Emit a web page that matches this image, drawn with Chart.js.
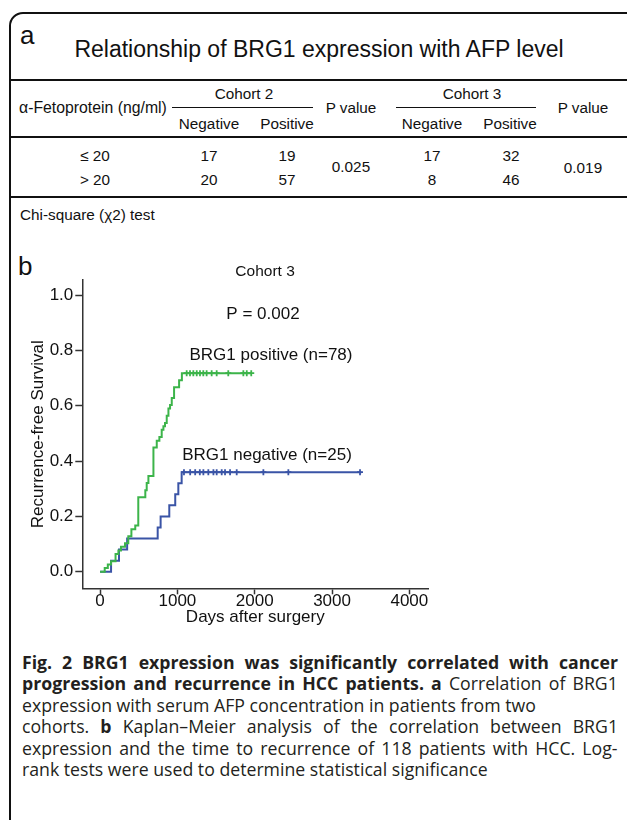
<!DOCTYPE html>
<html>
<head>
<meta charset="utf-8">
<script src="https://cdn.jsdelivr.net/npm/chart.js@4.4.0/dist/chart.umd.min.js"></script>
<style>
  html, body { margin: 0; padding: 0; background: #fff; }
  body {
    width: 627px; height: 820px; overflow: hidden; position: relative;
    font-family: "Liberation Sans", Arial, sans-serif; color: #111;
  }
  #frame {
    position: absolute; left: 9px; top: 12px; width: 700px; height: 900px;
    border: 2px solid #111; border-radius: 14px; box-sizing: border-box;
  }
  .t { position: absolute; white-space: nowrap; line-height: 1; transform: translate(-50%, -50%); }
  .l { position: absolute; white-space: nowrap; line-height: 1; transform: translateY(-50%); }
  .rule { position: absolute; background: #111; }
  #caption {
    position: absolute; left: 22px; top: 652px;
    font-family: "Open Sans", sans-serif; font-size: 17.5px; line-height: 21.4px; color: #231f20;
    transform-origin: 0 0;
  }
  #caption div { white-space: nowrap; width: max-content; }
  #km { position: absolute; left: 0; top: 250px; }
</style>
</head>
<body>
<div id="frame"></div>
<div id="panelA"></div>
<canvas id="km" width="450" height="390"></canvas>
<div id="caption">
  <div class="j"><b>Fig. 2 BRG1 expression was significantly correlated with cancer</b></div>
  <div class="j"><b>progression and recurrence in HCC patients. a</b> Correlation of BRG1</div>
  <div data-w="496">expression with serum AFP concentration in patients from two</div>
  <div class="j">cohorts. <b>b</b> Kaplan–Meier analysis of the correlation between BRG1</div>
  <div class="j">expression and the time to recurrence of 118 patients with HCC. Log-</div>
  <div data-w="482">rank tests were used to determine statistical significance</div>
</div>
<script>
// panel a table
const afpRows = ["≤ 20", "> 20"];
const cohort2Neg = [17, 20];
const cohort2Pos = [19, 57];
const cohort3Neg = [17, 8];
const cohort3Pos = [32, 46];
const pValues = ["0.025", "0.019"];

// panel b, Kaplan-Meier (days, cumulative recurrence)
const xTicks = [0, 1000, 2000, 3000, 4000];
const yTicks = [0, 0.2, 0.4, 0.6, 0.8, 1.0];
const posDays = [60, 100, 142, 200, 237, 270, 322, 365, 405, 455, 494, 585, 603, 625,
  690, 733, 767, 797, 819, 840, 862, 884, 905, 927, 957, 1022, 1058];
const posRisk = [0.013, 0.026, 0.038, 0.064, 0.077, 0.09, 0.103, 0.128, 0.154, 0.167, 0.269,
  0.295, 0.321, 0.346, 0.449, 0.474, 0.487, 0.513, 0.526, 0.538, 0.564, 0.59, 0.603,
  0.628, 0.667, 0.692, 0.718];
const posCensor = [1120, 1163, 1206, 1250, 1292, 1335, 1378, 1443, 1508, 1658, 1853, 1897, 1955];
const negDays = [142, 245, 350, 745, 783, 895, 972, 1012, 1055];
const negRisk = [0.04, 0.08, 0.12, 0.16, 0.2, 0.24, 0.28, 0.32, 0.36];
const negCensor = [1085, 1165, 1230, 1290, 1336, 1400, 1466, 1508, 1573, 1616, 1681, 1767,
  2112, 2435, 3362, 3380];

const noteText = ["Cohort 3", "P = 0.002", "BRG1 positive (n=78)", "BRG1 negative (n=25)"];
const noteX = [2134, 2107, 2210, 2159];
const noteY = [1.084, 0.932, 0.784, 0.422];
const noteSize = [15.5, 17, 17, 17];

const GREEN = "#3cb44a";
const BLUE = "#3a54a6";
const FONT = '"Liberation Sans", Arial, sans-serif';

// ---- table ----
const panel = document.getElementById("panelA");
const put = (text, cx, cy, size, cls) => {
  const s = document.createElement("span");
  s.className = cls || "t";
  s.textContent = text;
  s.style.left = cx + "px";
  s.style.top = cy + "px";
  s.style.fontSize = size + "px";
  panel.appendChild(s);
};
const rule = (x1, x2, y, h) => {
  const d = document.createElement("div");
  d.className = "rule";
  d.style.left = x1 + "px";
  d.style.width = x2 - x1 + "px";
  d.style.top = y - h / 2 + "px";
  d.style.height = h + "px";
  panel.appendChild(d);
};

put("a", 20, 35, 26, "l");
put("Relationship of BRG1 expression with AFP level", 319, 49, 23);
rule(10, 627, 80, 2);
put("α-Fetoprotein (ng/ml)", 19, 108, 15.8, "l");
put("Cohort 2", 244, 94, 15.3);
rule(172, 313, 107.5, 1.5);
put("P value", 351, 108, 15.3);
put("Cohort 3", 472, 94, 15.3);
rule(396, 536, 107.5, 1.5);
put("P value", 583, 108, 15.3);
[209, 287, 432, 510].forEach((x, i) => put(i % 2 ? "Positive" : "Negative", x, 123.5, 15.3));
rule(10, 627, 137, 1.5);
const rowY = [156, 180];
afpRows.forEach((r, i) => {
  put(r, 95, rowY[i], 15.3);
  put(cohort2Neg[i], 209, rowY[i], 15.3);
  put(cohort2Pos[i], 287, rowY[i], 15.3);
  put(cohort3Neg[i], 432, rowY[i], 15.3);
  put(cohort3Pos[i], 511, rowY[i], 15.3);
});
put(pValues[0], 351, 167, 15.3);
put(pValues[1], 583, 168, 15.3);
rule(10, 627, 197, 2);
put("Chi-square (χ2) test", 20, 215, 15.3, "l");
put("b", 18, 266, 26, "l");

// ---- caption: squeeze to the narrow journal face, then justify ----
const caption = document.getElementById("caption");
const capLines = [...caption.children];
const free = capLines.filter((d) => d.dataset.w);
let sx = 0;
free.forEach((d) => { sx += +d.dataset.w / d.offsetWidth; });
sx /= free.length;
caption.style.transform = "scaleX(" + sx + ")";
capLines.filter((d) => d.classList.contains("j")).forEach((d) => {
  const gaps = d.textContent.trim().split(/\s+/).length - 1;
  d.style.wordSpacing = (596 / sx - d.offsetWidth) / gaps + "px";
});

// ---- chart ----
const riskAt = (days, risk, d) => {
  let v = 0;
  days.forEach((t, i) => { if (t <= d) v = risk[i]; });
  return v;
};
const curve = (days, risk, end) => {
  const pts = [{ x: 0, y: 0 }];
  days.forEach((d, i) => pts.push({ x: d, y: risk[i] }));
  pts.push({ x: end, y: risk[risk.length - 1] });
  return pts;
};
const marks = (days, risk, cens) => cens.map((d) => ({ x: d, y: riskAt(days, risk, d) }));

const notes = {
  id: "notes",
  afterDraw(chart) {
    const { ctx, scales: { x, y } } = chart;
    ctx.save();
    ctx.fillStyle = "#111";
    ctx.textAlign = "center";
    ctx.textBaseline = "middle";
    noteText.forEach((t, i) => {
      ctx.font = noteSize[i] + "px " + FONT;
      ctx.fillText(t, x.getPixelForValue(noteX[i]), y.getPixelForValue(noteY[i]));
    });
    ctx.restore();
  },
};

Chart.defaults.font.family = FONT;
Chart.defaults.color = "#111";

const lineSet = (data, color) => ({
  data, showLine: true, stepped: "before", borderColor: color, borderWidth: 2,
  pointRadius: 0, fill: false,
});
const markSet = (data, color) => ({
  data, showLine: false, pointStyle: "cross", pointRadius: 3,
  borderColor: color, backgroundColor: color, borderWidth: 1.8,
});

const axisGrid = { drawOnChartArea: false, drawTicks: true, tickColor: "#333", tickWidth: 1.5 };
const axisBorder = { display: true, color: "#333", width: 1.5 };

const kmChart = new Chart(document.getElementById("km").getContext("2d"), {
  type: "scatter",
  data: {
    datasets: [
      lineSet(curve(posDays, posRisk, posCensor[posCensor.length - 1]), GREEN),
      markSet(marks(posDays, posRisk, posCensor), GREEN),
      lineSet(curve(negDays, negRisk, negCensor[negCensor.length - 1]), BLUE),
      markSet(marks(negDays, negRisk, negCensor.slice(0, -1)), BLUE),
    ],
  },
  options: {
    responsive: false,
    animation: false,
    devicePixelRatio: 1,
    layout: { padding: { left: 0, right: 21.7, top: 30, bottom: 0 } },
    plugins: { legend: { display: false }, tooltip: { enabled: false } },
    scales: {
      x: {
        type: "linear", min: -230, max: 4245,
        afterBuildTicks: (s) => { s.ticks = xTicks.map((v) => ({ value: v })); },
        afterFit: (s) => { s.height = 51.7; },
        grid: { ...axisGrid, tickLength: 6 },
        border: axisBorder,
        ticks: { font: { size: 17, lineHeight: 0.78 }, padding: 0, maxRotation: 0, callback: (v) => String(v) },
        title: { display: true, text: "Days after surgery", font: { size: 17 }, padding: { top: 0, bottom: 12 } },
      },
      y: {
        type: "linear", min: -0.06, max: 1.055,
        afterBuildTicks: (s) => { s.ticks = yTicks.map((v) => ({ value: v })); },
        afterFit: (s) => { s.width = 82.3; },
        grid: { ...axisGrid, tickLength: 7 },
        border: axisBorder,
        ticks: { font: { size: 17 }, padding: 2, callback: (v) => v.toFixed(1) },
        title: { display: true, text: "Recurrence-free Survival", font: { size: 17 }, padding: { top: 28, bottom: 0 } },
      },
    },
  },
  plugins: [notes],
});
</script>
</body>
</html>
